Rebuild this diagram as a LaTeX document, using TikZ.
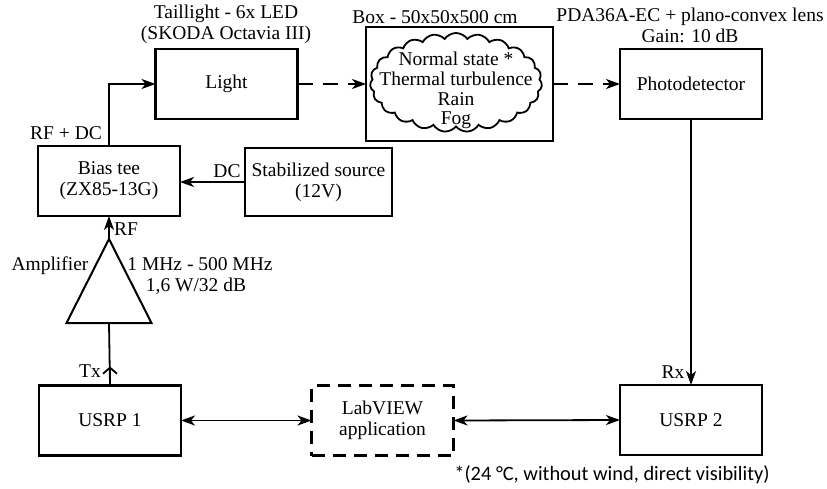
\documentclass[tikz,border=0pt]{standalone}
\usepackage{fontspec}
\setmainfont{Liberation Serif}
\newfontfamily\notefont{Carlito}
\usepackage{tikz}
\usetikzlibrary{arrows.meta,positioning,calc,shapes.geometric,shapes.symbols}

\begin{document}
\begin{tikzpicture}[
    x=1pt, y=-1pt,
    font=\fontsize{19.5}{21}\selectfont,
    blk/.style={rectangle,draw=black,line width=2.2pt,minimum width=142pt,
      minimum height=70pt,inner sep=2pt,align=center,outer sep=0pt},
    app/.style={blk,dash pattern=on 13pt off 8pt},
    lbl/.style={inner sep=0pt,align=center},
    conn/.style={line width=1.8pt,-{Stealth[length=14pt,width=10pt,inset=4pt]}},
    both/.style={line width=1.8pt,{Stealth[length=14pt,width=10pt,inset=4pt]}-{Stealth[length=14pt,width=10pt,inset=4pt]}},
    optic/.style={conn,dash pattern=on 15pt off 10pt},
  ]
  \useasboundingbox (0,0) rectangle (827,488);
  % Transmitter chain
  \node[blk] (light) at (226.5,84) {Light};
  \node[blk] (bias) at (109,181) {Bias tee\\(ZX85-13G)};
  \node[blk,minimum width=147pt,minimum height=68pt] (source) at (318.5,182) {Stabilized source\\(12V)};
  \node[draw,line width=2pt,isosceles triangle,shape border rotate=90,
    isosceles triangle stretches,minimum height=84pt,minimum width=85pt,
    inner sep=0pt,outer sep=0pt,anchor=apex] (amp) at (109,239) {};
  \node[blk] (usrp1) at (110,420.5) {USRP 1};
  % Channel
  \node[blk,minimum width=187pt,minimum height=114pt] (box) at (459.5,84) {};
  \node[cloud,draw,line width=1.8pt,cloud puffs=23,cloud puff arc=110,
    cloud ignores aspect,minimum width=172pt,minimum height=99pt,
    inner sep=0pt] (fog) at (456,82.5) {};
  \node[lbl,font=\fontsize{19.5}{19.7}\selectfont] (cond) at (456,90.5)
    {Normal state *\\Thermal turbulence\\Rain\\Fog};
  % Receiver chain
  \node[blk] (photo) at (691,84) {Photodetector};
  \node[app] (lab) at (382.5,420.5) {LabVIEW\\application};
  \node[blk] (usrp2) at (691,420) {USRP 2};
  % Connections
  \draw[conn] (bias.north) |- (light.west);
  \draw[conn] (source.west) -- (source.west -| bias.east);
  \draw[conn] (amp.apex) -- (bias.south);
  \draw[line width=1.8pt] (usrp1.north) -- (amp.lower side);
  \draw[line width=1.8pt,-{Straight Barb[length=6pt,width=14pt]}] (usrp1.north) -- ++(0,-19);
  \draw[optic] (light.east) -- (box.west);
  \draw[optic] (box.east) -- (photo.west);
  \draw[conn] (photo.south) -- (usrp2.north);
  \draw[both] (usrp1.east) -- (lab.west);
  \draw[both] (lab.east) -- (usrp2.west);
  % Annotations
  \node[lbl] (tl) at (226,24) {Taillight - 6x LED\\(SKODA Octavia III)};
  \node[lbl] (bx) at (435,17) {Box - 50x50x500 cm};
  \node[lbl] (pd) at (690,25) {PDA36A-EC + plano-convex lens\\Gain: 10 dB};
  \node[lbl] (rfdc) at (66,133) {RF + DC};
  \node[lbl] (dc) at (227,171) {DC};
  \node[lbl] (rf) at (126,229) {RF};
  \node[lbl] (ampl) at (50,266) {Amplifier};
  \node[lbl] (spec) at (200,276) {1 MHz - 500 MHz\\\hspace*{-8pt}1,6 W/32 dB};
  \node[lbl] (tx) at (90,371) {Tx};
  \node[lbl] (rx) at (673,372) {Rx};
  \node[lbl,font=\notefont\fontsize{20.4}{22}\selectfont] (note) at (612,475)
    {*(24 °C, without wind, direct visibility)};
\end{tikzpicture}
\end{document}
